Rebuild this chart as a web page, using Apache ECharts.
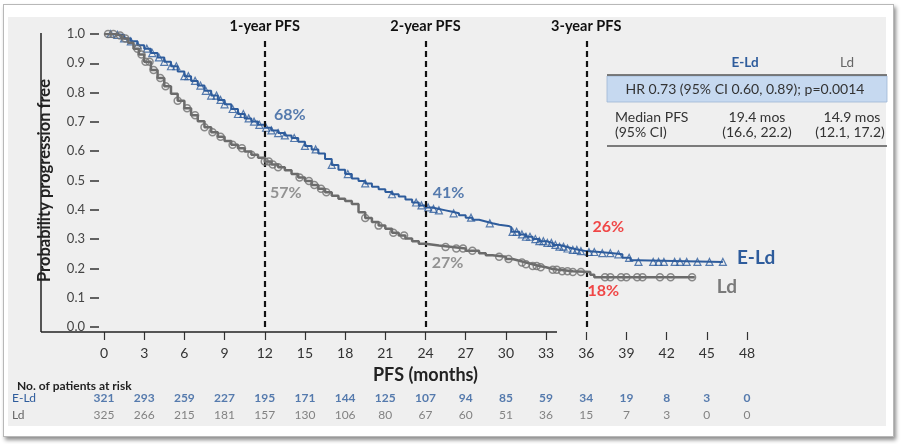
<!DOCTYPE html>
<html><head><meta charset="utf-8">
<script src="https://cdn.jsdelivr.net/npm/echarts@6/dist/echarts.min.js"></script>
<style>
html,body{margin:0;padding:0;background:#fff;}
#wrap{position:relative;width:902px;height:444px;overflow:hidden;}
#frame{position:absolute;left:3px;top:4px;width:889px;height:431px;border:1px solid #b8b8b8;background:#fff;box-shadow:2px 3px 4px rgba(0,0,0,0.45);}
#panel{position:absolute;left:8px;top:17px;width:878px;height:409px;background:#efefef;}
#chart{position:absolute;left:0;top:0;width:902px;height:444px;}
</style></head><body>
<div id="wrap"><div id="frame"></div><div id="panel"></div><div id="chart"></div></div>
<script>
// ---------- DATA ----------
const eldCurve = [[0,1],[0.8,0.997],[1.5,0.985],[2,0.975],[2.5,0.962],[3,0.95],[3.5,0.935],[4,0.92],[4.5,0.905],[5,0.89],[5.5,0.872],[6,0.856],[6.5,0.84],[7,0.824],[7.5,0.806],[8,0.79],[8.5,0.775],[9,0.76],[9.5,0.744],[10,0.727],[10.5,0.712],[11,0.701],[11.5,0.69],[12,0.68],[12.5,0.671],[13,0.662],[13.5,0.654],[14,0.645],[14.5,0.632],[15,0.618],[15.5,0.606],[16,0.592],[16.5,0.573],[17,0.553],[17.5,0.537],[18,0.522],[18.5,0.507],[19,0.498],[19.5,0.49],[20,0.479],[20.5,0.47],[21,0.461],[21.5,0.453],[22,0.445],[22.5,0.435],[23,0.425],[23.5,0.415],[24,0.408],[24.5,0.403],[25,0.398],[25.5,0.393],[26,0.388],[26.5,0.381],[27,0.373],[27.5,0.366],[28,0.36],[28.5,0.354],[29,0.349],[29.5,0.345],[30.2,0.341],[30.4,0.325],[31,0.316],[31.5,0.308],[32,0.3],[32.5,0.293],[33,0.287],[33.5,0.28],[34,0.274],[34.5,0.268],[35,0.263],[35.5,0.259],[36,0.256],[37,0.252],[38,0.248],[38.7,0.236],[39.3,0.228],[39.8,0.222],[46.2,0.222]];
const ldCurve = [[0,1],[0.8,0.995],[1.3,0.985],[1.8,0.97],[2.2,0.95],[2.6,0.93],[3,0.905],[3.5,0.877],[4,0.85],[4.5,0.822],[5,0.796],[5.5,0.772],[6,0.747],[6.5,0.723],[7,0.702],[7.5,0.682],[8,0.665],[8.5,0.649],[9,0.635],[9.5,0.622],[10,0.61],[10.5,0.599],[11,0.588],[11.5,0.578],[12,0.565],[12.5,0.555],[13,0.545],[13.5,0.535],[14,0.522],[14.5,0.51],[15,0.498],[15.5,0.485],[16,0.472],[16.5,0.46],[17,0.448],[17.5,0.438],[18,0.43],[18.5,0.42],[19,0.392],[19.5,0.372],[20,0.358],[20.5,0.346],[21,0.335],[21.5,0.322],[22,0.312],[22.5,0.302],[23,0.293],[23.5,0.284],[24,0.278],[25,0.273],[26,0.268],[27,0.26],[28,0.252],[28.5,0.245],[29,0.24],[30,0.232],[30.5,0.226],[31,0.22],[31.5,0.214],[32,0.208],[32.5,0.204],[33,0.198],[33.5,0.195],[34,0.19],[35,0.188],[36.3,0.178],[36.6,0.17],[44.1,0.17]];
const eldCensor = [0.5,1,1.5,2,2.5,3.2,3.6,4.1,4.5,5,5.4,6,6.3,6.8,7.2,7.6,8,8.4,8.7,9,9.6,10,10.4,10.8,11.2,11.6,12.1,12.5,13,13.5,14.2,15,15.8,17,18.2,19.5,21.5,23.3,23.7,24.2,24.6,25,26.1,27.4,28.8,30.5,30.8,31.2,31.5,31.8,32.2,32.5,32.8,33.1,33.4,33.7,34,34.3,34.6,35,35.3,35.6,36.2,36.6,37.2,37.8,38.4,39.2,39.9,41,41.4,41.8,42.6,43,43.5,44.3,45.2,46.2];
const ldCensor = [0.3,0.7,1.2,1.6,2.5,2.8,3.1,3.4,3.7,4.2,4.6,5.5,6.2,6.8,7.5,8.1,8.7,9.6,10.3,11,12,12.3,12.6,13,14.6,15.3,15.7,16.2,16.6,19.5,20.5,21.6,22.4,25.5,26.3,26.8,27.5,29.5,30.2,31.2,31.5,32,32.3,32.6,33.5,33.8,34.2,34.6,35,35.6,37.4,37.8,38.6,39,39.8,40.2,41.5,42.3,43.9];
const milestones = [12,24,36];
const milestoneNames = ['1-year PFS','2-year PFS','3-year PFS'];
const eldMilestone = [0.68,0.41,0.26];
const ldMilestone = [0.57,0.27,0.18];
const riskTimes = [0,3,6,9,12,15,18,21,24,27,30,33,36,39,42,45,48];
const riskELd = [321,293,259,227,195,171,144,125,107,94,85,59,34,19,8,3,0];
const riskLd = [325,266,215,181,157,130,106,80,67,60,51,36,15,7,3,0,0];
const riskRows = ['E-Ld','Ld'];
const tableHeader = ['E-Ld','Ld'];
const hrText = 'HR 0.73 (95% CI 0.60, 0.89); p=0.0014';
const medianLabel = ['Median PFS','(95% CI)'];
const medianELd = ['19.4 mos','(16.6, 22.2)'];
const medianLd = ['14.9 mos','(12.1, 17.2)'];

// ---------- STYLE ----------
const BLUE = '#2e5c9c', GREY = '#6b6b6b', RED = '#f01c1c';
const FONT = 'Lato, "Open Sans", sans-serif';
function stepAt(curve, t){ let v = curve[0][1]; for (const p of curve){ if (p[0] <= t) v = p[1]; else break; } return v; }

const pctOffsets = {eld:[[25,-13],[23,-14],[22,-24]], ld:[[21,33],[22,15],[17,17]]};
const pctColors = {eld:[BLUE,BLUE,RED], ld:['#7a7a7a','#7a7a7a',RED]};
const pctData = [];
milestones.forEach((m,i)=>{
  pctData.push({value:[m,eldMilestone[i]], label:{formatter:Math.round(eldMilestone[i]*100)+'%', color:pctColors.eld[i], offset:pctOffsets.eld[i]}});
  pctData.push({value:[m,ldMilestone[i]], label:{formatter:Math.round(ldMilestone[i]*100)+'%', color:pctColors.ld[i], offset:pctOffsets.ld[i]}});
});

const txt = (x,y,text,opt)=>Object.assign({type:'text', x, y, z:10, style:Object.assign({text, fill:'#333', fontSize:14, fontFamily:FONT, align:'center', verticalAlign:'middle'}, opt||{})});

const option = {
  animation:false,
  textStyle:{fontFamily:FONT},
  title:{text:'No. of patients at risk', left:12, top:375, textStyle:{fontSize:12, fontWeight:'bold', color:'#222', fontFamily:FONT}},
  grid:[{left:104,right:155,top:34,bottom:117},{left:104,right:155,top:390,height:34}],
  xAxis:[
    {type:'value',min:0,max:48,interval:3,gridIndex:0,offset:5,
     axisLine:{show:false,onZero:false}, axisTick:{show:true,length:8,lineStyle:{color:'#333',width:1.2}},
     axisLabel:{margin:14,fontSize:14,color:'#333',fontFamily:FONT}, splitLine:{show:false},
     name:'PFS (months)', nameLocation:'middle', nameGap:34,
     nameTextStyle:{fontSize:18,fontWeight:'bold',color:'#222',fontFamily:FONT}},
    {type:'value',min:0,max:48,interval:3,gridIndex:1,show:false}
  ],
  yAxis:[
    {type:'value',min:0,max:1,interval:0.1,gridIndex:0,offset:5,
     axisLine:{show:false,onZero:false}, axisTick:{show:true,length:9,lineStyle:{color:'#333',width:1.5}},
     axisLabel:{margin:14,fontSize:13,color:'#444',fontFamily:FONT,formatter:v=>v.toFixed(1)}, splitLine:{show:false},
     name:'Probability progression free', nameLocation:'middle', nameGap:46,
     nameTextStyle:{fontSize:16.5,fontWeight:'bold',color:'#222',fontFamily:FONT}},
    {type:'category',gridIndex:1,data:riskRows,inverse:true,
     axisLine:{show:false}, axisTick:{show:false}, splitLine:{show:false},
     axisLabel:{align:'left',margin:92,fontSize:12,fontFamily:FONT,color:(v)=> v==='E-Ld'?BLUE:'#666'}}
  ],
  series:[
    {type:'line', name:'E-Ld', data:eldCurve, step:'end', showSymbol:false, z:3,
     lineStyle:{color:BLUE,width:2}, itemStyle:{color:BLUE},
     endLabel:{show:true, formatter:'E-Ld', color:BLUE, fontSize:19, fontWeight:'bold', fontFamily:FONT, distance:14, offset:[0,-4]}},
    {type:'scatter', name:'E-Ld censored', data:eldCensor.map(t=>[t, stepAt(eldCurve,t)]), symbol:'triangle', symbolSize:7, z:4,
     itemStyle:{color:'rgba(0,0,0,0)', borderColor:BLUE, borderWidth:1.2}},
    {type:'line', name:'Ld', data:ldCurve, step:'end', showSymbol:false, z:5,
     lineStyle:{color:GREY,width:2.5}, itemStyle:{color:GREY},
     endLabel:{show:true, formatter:'Ld', color:'#7a7a7a', fontSize:19, fontWeight:'bold', fontFamily:FONT, distance:22, offset:[0,10]}},
    {type:'scatter', name:'Ld censored', data:ldCensor.map(t=>[t, stepAt(ldCurve,t)]), symbol:'circle', symbolSize:7, z:6,
     itemStyle:{color:'rgba(0,0,0,0)', borderColor:'#6f6f6f', borderWidth:1.5}},
    {type:'scatter', name:'milestones', data:pctData, symbolSize:1, clip:false, z:8,
     itemStyle:{color:'rgba(0,0,0,0)'},
     label:{show:true, position:'inside', fontSize:16, fontWeight:'bold', fontFamily:FONT},
     markLine:{symbol:'none', silent:true, precision:3,
       lineStyle:{color:'#111', type:[6,4], width:2.2},
       label:{show:true, position:'end', formatter:'{b}', fontWeight:'bold', fontSize:14.5, color:'#111', fontFamily:FONT, distance:6},
       data: milestones.map((m,i)=>[{coord:[m,0], name:milestoneNames[i]},{coord:[m,0.98], name:milestoneNames[i]}])}},
    {type:'scatter', xAxisIndex:1, yAxisIndex:1, symbolSize:1, itemStyle:{color:'rgba(0,0,0,0)'},
     data:riskTimes.map((t,i)=>[t, riskRows[0], riskELd[i]]),
     label:{show:true, position:'inside', formatter:p=>String(p.value[2]), color:BLUE, fontWeight:'bold', fontSize:12, fontFamily:FONT}},
    {type:'scatter', xAxisIndex:1, yAxisIndex:1, symbolSize:1, itemStyle:{color:'rgba(0,0,0,0)'},
     data:riskTimes.map((t,i)=>[t, riskRows[1], riskLd[i]]),
     label:{show:true, position:'inside', formatter:p=>String(p.value[2]), color:'#666', fontSize:12, fontFamily:FONT}}
  ],
  graphic:[
    {type:'line', shape:{x1:41,y1:33,x2:41,y2:332}, style:{stroke:'#222', lineWidth:1.5}, z:1},
    {type:'line', shape:{x1:41,y1:332,x2:557,y2:332}, style:{stroke:'#222', lineWidth:1.5}, z:1},
    {type:'rect', shape:{x:607,y:76,width:280,height:26}, style:{fill:'#c6d9f0', stroke:'#9fb6d4', lineWidth:0.8}, z:1},
    {type:'line', shape:{x1:607,y1:75,x2:887,y2:75}, style:{stroke:'#555', lineWidth:1.5}, z:2},
    {type:'line', shape:{x1:607,y1:146,x2:887,y2:146}, style:{stroke:'#555', lineWidth:1.5}, z:2},
    txt(745,63,tableHeader[0],{fill:BLUE, fontWeight:'bold', fontSize:13.5}),
    txt(847,63,tableHeader[1],{fill:'#666', fontSize:13.5}),
    txt(745,89,hrText),
    txt(615,117,medianLabel[0],{align:'left'}),
    txt(615,132,medianLabel[1],{align:'left'}),
    txt(757,117,medianELd[0]),
    txt(757,132,medianELd[1]),
    txt(852,117,medianLd[0]),
    txt(850,132,medianLd[1])
  ]
};
const chart = echarts.init(document.getElementById('chart'), null, {renderer:'canvas'});
chart.setOption(option);
</script></body></html>
